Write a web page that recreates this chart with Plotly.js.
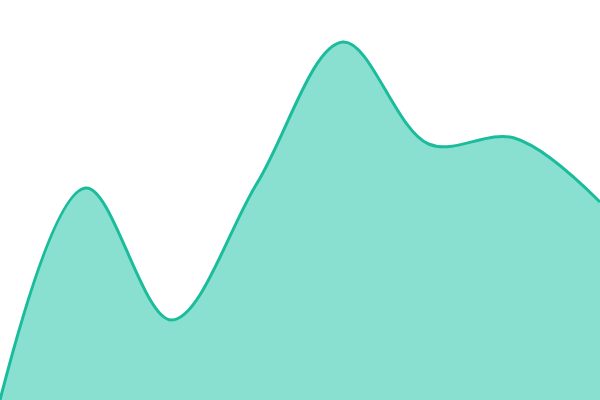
<!DOCTYPE html>
<html>
<head>
    <script src="https://cdn.plot.ly/plotly-3.0.1.min.js"></script>
    <style>
        html, body { margin: 0; padding: 0; background: white; }
        #chart { width: 600px; height: 400px; }
    </style>
</head>
<body>
    <div id="chart"></div>
    <script>
        // Sample positions and values
        const steps = [0, 1, 2, 3, 4, 5, 6, 7];
        const values = [0, 212, 80, 217, 358, 256, 262, 198];

        const trace = {
            x: steps,
            y: values,
            type: 'scatter',
            mode: 'lines',
            fill: 'tozeroy',
            fillcolor: '#8ae0d0',
            line: {
                color: '#1abc9c',
                width: 3,
                shape: 'spline',
                smoothing: 1
            },
            hoverinfo: 'skip'
        };

        const layout = {
            width: 600,
            height: 400,
            margin: { l: 0, r: 0, t: 0, b: 0 },
            paper_bgcolor: 'white',
            plot_bgcolor: 'white',
            showlegend: false,
            xaxis: { range: [0, 7], visible: false, fixedrange: true },
            yaxis: { range: [0, 400], visible: false, fixedrange: true }
        };

        Plotly.newPlot('chart', [trace], layout, { displayModeBar: false, staticPlot: true });
    </script>
</body>
</html>
